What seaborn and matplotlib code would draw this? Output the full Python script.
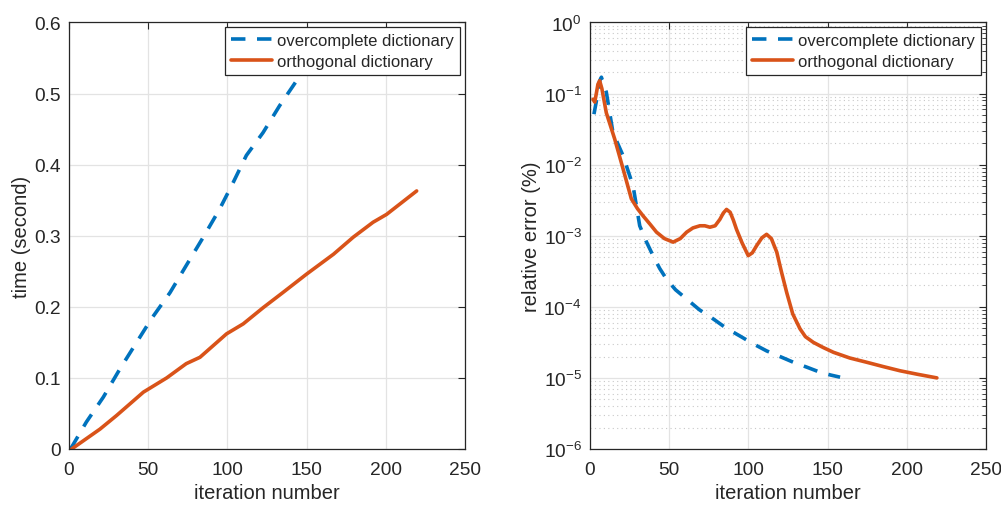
import numpy as np
import pandas as pd
import seaborn as sns
import matplotlib.pyplot as plt
from matplotlib.ticker import LogLocator, NullFormatter

# running time (left panel)
iter_over_t = [1, 11, 21.7, 32, 42.7, 52, 63.8, 74, 84.8, 95, 103.7, 112, 122.5, 133, 145.8, 158]
time_over = [0, 0.038, 0.073, 0.112, 0.15, 0.183, 0.22, 0.258, 0.298, 0.337, 0.375, 0.413, 0.445, 0.483, 0.525, 0.575]
iter_orth_t = [1.7, 19.6, 30, 47, 61.7, 74, 82.7, 99.5, 110, 122.7, 135, 150, 167, 179.5, 192, 200.5, 219.5]
time_orth = [0, 0.028, 0.047, 0.08, 0.10, 0.12, 0.129, 0.162, 0.176, 0.199, 0.22, 0.246, 0.274, 0.298, 0.319, 0.33, 0.363]

# relative error (right panel), log10 values
iter_over_e = [2.5, 4.5, 6.1, 7.2, 10.3, 14.5, 20.9, 27.2, 31.4, 35.5, 39.8, 44, 48.3, 54, 61, 69, 77.8, 86, 94.6, 103, 111.5, 120, 128.4, 137, 145.2, 152, 157.9]
logerr_over = [-1.29, -1.05, -0.82, -0.77, -0.98, -1.55, -1.875, -2.30, -2.86, -3.08, -3.28, -3.46, -3.61, -3.76, -3.89, -4.04, -4.17, -4.30, -4.41, -4.52, -4.62, -4.70, -4.78, -4.85, -4.92, -4.96, -4.99]
iter_orth_e = [1.9, 3, 4, 5, 6.1, 7.5, 10.3, 15.6, 20.9, 26.1, 30, 33.5, 38, 42, 47, 52.5, 57, 61, 65, 69.4, 72.5, 75.7, 79, 82, 84.2, 86.2, 88.5, 90.5, 92.5, 96, 99.9, 102.5, 105.2, 108.5, 111.5, 114.5, 117.9, 121, 124.2, 128, 132.6, 136, 141, 147, 153.7, 164, 174.7, 185, 195.8, 207, 219]
logerr_orth = [-1.08, -1.12, -1.0, -0.87, -0.82, -0.93, -1.27, -1.64, -2.06, -2.48, -2.62, -2.72, -2.84, -2.95, -3.04, -3.09, -3.04, -2.95, -2.89, -2.86, -2.86, -2.88, -2.86, -2.77, -2.68, -2.63, -2.67, -2.78, -2.91, -3.10, -3.28, -3.24, -3.14, -3.03, -2.98, -3.04, -3.23, -3.52, -3.80, -4.10, -4.31, -4.42, -4.50, -4.57, -4.64, -4.72, -4.78, -4.84, -4.90, -4.95, -5.0]

labels = ["overcomplete dictionary", "orthogonal dictionary"]
c_blue = "#0072BD"
c_orange = "#D95319"

sns.set_theme(style="white")
plt.rcParams['font.family'] = ['Liberation Sans', 'DejaVu Sans']
plt.rcParams['mathtext.fontset'] = 'custom'
plt.rcParams['mathtext.rm'] = 'Liberation Sans'

fig = plt.figure(figsize=(10.01, 5.06), dpi=100)
ax1 = fig.add_axes([0.0689, 0.1107, 0.3956, 0.8429])
ax2 = fig.add_axes([0.5894, 0.1107, 0.3956, 0.8429])

df_t1 = pd.DataFrame({"x": iter_over_t, "y": time_over})
df_t2 = pd.DataFrame({"x": iter_orth_t, "y": time_orth})
df_e1 = pd.DataFrame({"x": iter_over_e, "y": np.power(10.0, logerr_over)})
df_e2 = pd.DataFrame({"x": iter_orth_e, "y": np.power(10.0, logerr_orth)})

lw = 2.6
for ax, d1, d2 in [(ax1, df_t1, df_t2), (ax2, df_e1, df_e2)]:
    sns.lineplot(data=d1, x="x", y="y", ax=ax, color=c_blue, lw=lw, label=labels[0],
                 sort=False, estimator=None)
    sns.lineplot(data=d2, x="x", y="y", ax=ax, color=c_orange, lw=lw, label=labels[1],
                 sort=False, estimator=None)
    ax.lines[0].set_dashes((4.0, 3.2))

ax1.set_xlim(0, 250)
ax1.set_ylim(0, 0.6)
ax1.set_xticks([0, 50, 100, 150, 200, 250])
ax1.set_yticks([0, 0.1, 0.2, 0.3, 0.4, 0.5, 0.6])
ax1.set_yticklabels(["0", "0.1", "0.2", "0.3", "0.4", "0.5", "0.6"])
ax1.set_ylabel("time (second)", fontsize=14.5, labelpad=2)

ax2.set_yscale("log")
ax2.set_xlim(0, 250)
ax2.set_ylim(1e-6, 1)
ax2.set_xticks([0, 50, 100, 150, 200, 250])
ax2.yaxis.set_major_locator(LogLocator(base=10, numticks=10))
ax2.yaxis.set_minor_locator(LogLocator(base=10, subs=np.arange(2, 10), numticks=20))
ax2.yaxis.set_minor_formatter(NullFormatter())
ax2.set_ylabel("relative error (%)", fontsize=14.5, labelpad=2)
ax2.grid(True, which="minor", axis="y", color="#c8c8c8", lw=0.8, ls=(0, (1, 3)))

for ax in (ax1, ax2):
    ax.set_xlabel("iteration number", fontsize=14.5, labelpad=3.5)
    ax.grid(True, which="major", color="#e3e3e3", lw=0.9)
    ax.set_axisbelow(True)
    ax.tick_params(which="both", direction="in", top=True, right=True, labelsize=13.8,
                   colors="#262626")
    ax.tick_params(axis="x", which="major", pad=9)
    ax.tick_params(axis="y", which="major", pad=6)
    ax.tick_params(which="major", length=5, width=0.8)
    ax.tick_params(which="minor", length=3, width=0.6)
    for s in ax.spines.values():
        s.set_color("#262626")
        s.set_linewidth(0.9)
    ax.xaxis.label.set_color("#262626")
    ax.yaxis.label.set_color("#262626")
    leg = ax.legend(loc="upper right", fontsize=12, frameon=True, fancybox=False,
                    borderaxespad=0.3, handlelength=2.5, handletextpad=0.3,
                    borderpad=0.35, labelspacing=0.35, framealpha=1)
    leg.get_frame().set_edgecolor("#262626")
    leg.get_frame().set_linewidth(0.9)

fig.savefig("out.png", dpi=100)
